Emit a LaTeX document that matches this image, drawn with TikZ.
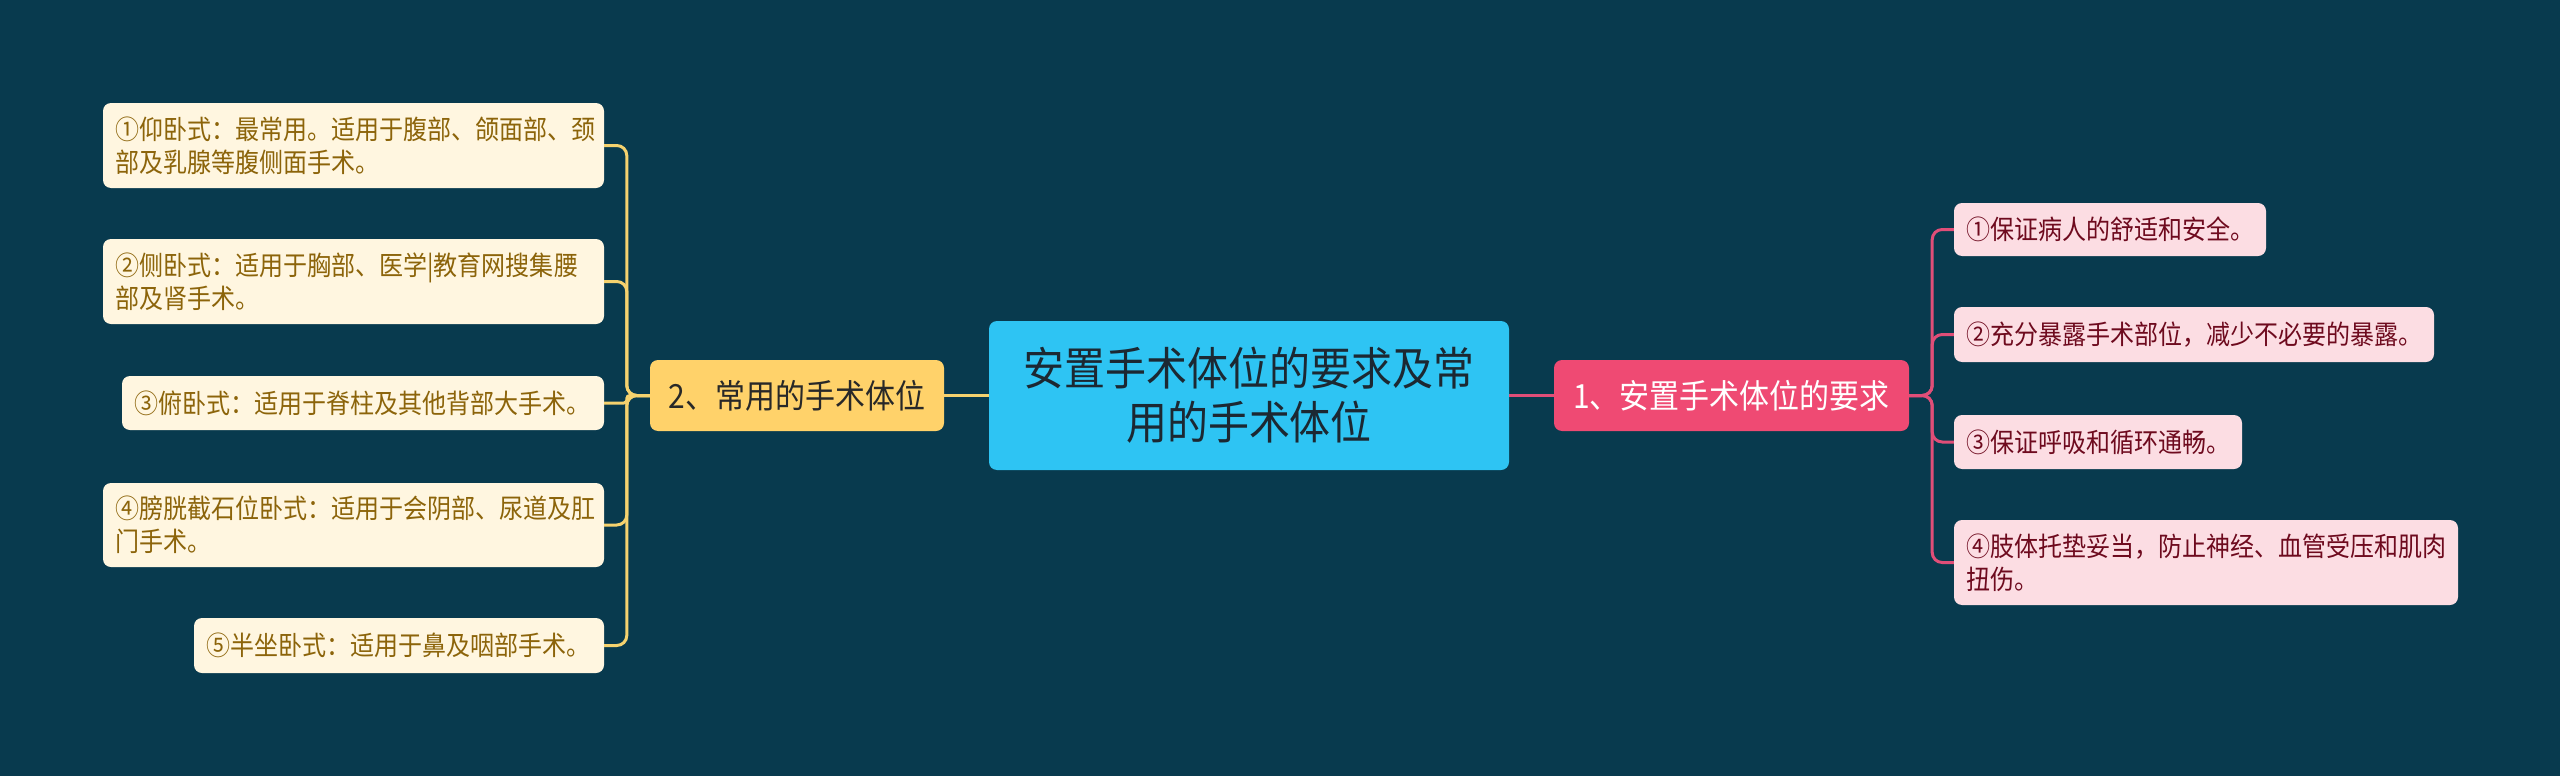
\documentclass[tikz,border=0pt]{standalone}
\usepackage{fontspec}
\setmainfont{Noto Sans CJK SC}[FakeStretch=0.9]
\definecolor{bg}{RGB}{8,58,78}
\definecolor{cfill}{RGB}{46,196,243}
\definecolor{ctext}{RGB}{28,40,50}
\definecolor{yfill}{RGB}{255,210,106}
\definecolor{ytext}{RGB}{40,40,40}
\definecolor{lfill}{RGB}{255,246,224}
\definecolor{ltext}{RGB}{140,100,10}
\definecolor{yline}{RGB}{245,210,110}
\definecolor{rfill}{RGB}{239,74,115}
\definecolor{rleaf}{RGB}{252,221,227}
\definecolor{rtext}{RGB}{110,10,30}
\definecolor{rline}{RGB}{224,78,120}
\begin{document}
\begin{tikzpicture}[x=1pt,y=-1pt,
  box/.style={rounded corners=8pt, inner ysep=0pt},
  leaf/.style={box, inner xsep=12pt, align=left, font=\fontsize{26.7pt}{33pt}\selectfont},
  lleaf/.style={leaf, fill=lfill, text=ltext},
  rleafbox/.style={leaf, fill=rleaf, text=rtext},
  ylink/.style={draw=yline, line width=3pt, rounded corners=10pt},
  rlink/.style={draw=rline, line width=3pt, rounded corners=10pt}]
\fill[bg] (0,0) rectangle (2560,776);
\useasboundingbox (0,0) rectangle (2560,776);

% central
\node[box, inner xsep=0pt, align=center, fill=cfill, text=ctext, minimum width=520pt, minimum height=149pt,
  font=\fontsize{45.5pt}{54pt}\selectfont] (c) at (1249,395.5) {安置手术体位的要求及常\\用的手术体位};

% branches
\node[box, inner xsep=0pt, align=center, fill=yfill, text=ytext, minimum width=294pt, minimum height=71pt,
  font=\fontsize{33.3pt}{36pt}\selectfont] (yb) at (797,395.5) {2、常用的手术体位};
\node[box, inner xsep=0pt, align=center, fill=rfill, text=white, minimum width=355pt, minimum height=71pt,
  font=\fontsize{33.3pt}{36pt}\selectfont] (rb) at (1731.5,395.5) {1、安置手术体位的要求};

% left leaves
\node[lleaf, text width=477pt, minimum height=85pt] (l1) at (353.5,145.5) {①仰卧式：最常用。适用于腹部、颌面部、颈\\部及乳腺等腹侧面手术。};
\node[lleaf, text width=477pt, minimum height=85pt] (l2) at (353.5,281.5) {②侧卧式：适用于胸部、医学|教育网搜集腰\\部及肾手术。};
\node[lleaf, text width=458pt, minimum height=54pt] (l3) at (363,403) {③俯卧式：适用于脊柱及其他背部大手术。};
\node[lleaf, text width=477pt, minimum height=84pt] (l4) at (353.5,525) {④膀胱截石位卧式：适用于会阴部、尿道及肛\\门手术。};
\node[lleaf, text width=386pt, minimum height=55pt] (l5) at (399,645.5) {⑤半坐卧式：适用于鼻及咽部手术。};

% right leaves
\node[rleafbox, text width=288pt, minimum height=53pt] (r1) at (2110,229.5) {①保证病人的舒适和安全。};
\node[rleafbox, text width=456pt, minimum height=55pt] (r2) at (2194,334.5) {②充分暴露手术部位，减少不必要的暴露。};
\node[rleafbox, text width=264pt, minimum height=54pt] (r3) at (2098,442) {③保证呼吸和循环通畅。};
\node[rleafbox, text width=480pt, minimum height=85pt] (r4) at (2206,562.5) {④肢体托垫妥当，防止神经、血管受压和肌肉\\扭伤。};

% connectors
\draw[yline, line width=3pt] (c.west) -- (yb.east);
\draw[rline, line width=3pt] (c.east) -- (rb.west);

\draw[ylink] (yb.west) -- ++(-23,0) |- (l1.east);
\draw[ylink] (yb.west) -- ++(-23,0) |- (l2.east);
\draw[ylink, rounded corners=3pt] (yb.west) -- ++(-23,0) |- (l3.east);
\draw[ylink] (yb.west) -- ++(-23,0) |- (l4.east);
\draw[ylink] (yb.west) -- ++(-23,0) |- (l5.east);

\draw[rlink] (rb.east) -- ++(23,0) |- (r1.west);
\draw[rlink] (rb.east) -- ++(23,0) |- (r2.west);
\draw[rlink] (rb.east) -- ++(23,0) |- (r3.west);
\draw[rlink] (rb.east) -- ++(23,0) |- (r4.west);
\end{tikzpicture}
\end{document}
